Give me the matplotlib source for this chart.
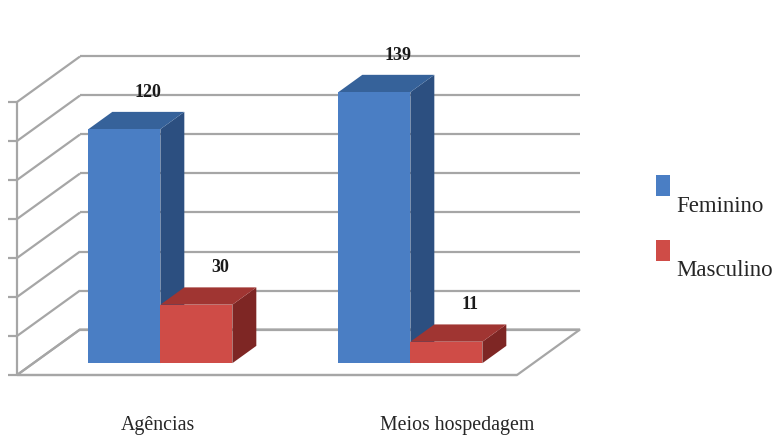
import matplotlib.pyplot as plt
from matplotlib.patches import Polygon, Rectangle

# chart data
categories = ['Agências', 'Meios hospedagem']
series = ['Feminino', 'Masculino']
feminino = [120, 139]
masculino = [30, 11]
values = [feminino, masculino]

front_cols = ['#4a7ec4', '#cf4c47']
top_cols = ['#36629a', '#a03532']
side_cols = ['#2c4f80', '#7e2624']

VMAX = 140
STEP = 20

W, H = 774, 436
fig = plt.figure(figsize=(W / 100, H / 100), dpi=100)
ax = fig.add_axes([0, 0, 1, 1])
ax.axis('off')

# pixel layout of the value axis (front plane)
ppv = 273 / VMAX          # pixels per value unit
base_px = 61              # value 0 from figure bottom
ppc = 250                 # pixels per category
c0_px = 144               # category 0 from figure left
ax.set_xlim(-c0_px / ppc, (W - c0_px) / ppc)
ax.set_ylim(-base_px / ppv, (H - base_px) / ppv)

DX = 63 / ppc             # full depth offset
DY = 45.5 / ppv


def proj(c, v, d):
    return (c + d * DX, v + d * DY)


grid_kw = dict(color='#a6a6a6', lw=1.6, zorder=1, solid_capstyle='butt')
c_lo, c_hi = -0.508, 1.492

# floor
floor = Polygon([proj(c_lo, 0, 0), proj(c_hi, 0, 0), proj(c_hi, 0, 1), proj(c_lo, 0, 1)],
                closed=True, fc='white', ec='#a6a6a6', lw=1.6, zorder=0)
ax.add_patch(floor)

levels = list(range(0, VMAX + 1, STEP))
tick_len = 9 / ppc
for v in levels:
    # back wall line
    x0, y0 = proj(c_lo, v, 1)
    x1, y1 = proj(c_hi, v, 1)
    ax.plot([x0, x1], [y0, y1], **grid_kw)
    # side wall line
    xa, ya = proj(c_lo, v, 0)
    ax.plot([xa, x0], [ya, y0], **grid_kw)
    # tick on the left
    ax.plot([xa - tick_len, xa], [ya, ya], **grid_kw)

# front edge of floor and left vertical axis
xa, ya = proj(c_lo, 0, 0)
xb, yb = proj(c_hi, 0, 0)
ax.plot([xa, xb], [ya, yb], **grid_kw)
xt, yt = proj(c_lo, VMAX, 0)
ax.plot([xa, xt], [ya, yt], **grid_kw)

# 3d bars
d0, d1 = 0.26, 0.64
bw = 72 / ppc
offsets = [-bw, 0]
for ci in range(len(categories)):
    for si in range(len(series)):
        v = values[si][ci]
        l = ci + offsets[si]
        r = l + bw
        side = [proj(r, 0, d0), proj(r, 0, d1), proj(r, v, d1), proj(r, v, d0)]
        top = [proj(l, v, d0), proj(r, v, d0), proj(r, v, d1), proj(l, v, d1)]
        front = [proj(l, 0, d0), proj(r, 0, d0), proj(r, v, d0), proj(l, v, d0)]
        z = 3 + ci * 2 + si
        ax.add_patch(Polygon(side, closed=True, fc=side_cols[si], ec='none', zorder=z))
        ax.add_patch(Polygon(top, closed=True, fc=top_cols[si], ec='none', zorder=z))
        ax.add_patch(Polygon(front, closed=True, fc=front_cols[si], ec='none', zorder=z))
        tx, ty = proj((l + r) / 2, v, d1)
        ax.annotate(str(v), (tx, ty), xytext=(0, 8), textcoords='offset points',
                    ha='center', va='bottom', fontsize=13, fontweight='bold',
                    family='Liberation Serif', color='#1a1a1a', zorder=20)

# category labels
label_x = [0.056, 1.252]
label_y = (11 - base_px) / ppv
for x, name in zip(label_x, categories):
    ax.text(x, label_y, name, ha='center', va='center', fontsize=14.3,
            family='Liberation Serif', color='#262626')

# legend
leg_sq = [(656, 175), (656, 240)]
leg_txt_y = [206, 271]
for si, name in enumerate(series):
    sx, sy = leg_sq[si]
    fig.add_artist(Rectangle((sx / W, 1 - (sy + 21) / H), 14 / W, 21 / H,
                             transform=fig.transFigure, fc=front_cols[si], ec='none'))
    fig.text(676 / W, 1 - leg_txt_y[si] / H, name, ha='left', va='center',
             fontsize=16.5, family='Liberation Serif', color='#262626')

fig.savefig('out.png', dpi=100)
